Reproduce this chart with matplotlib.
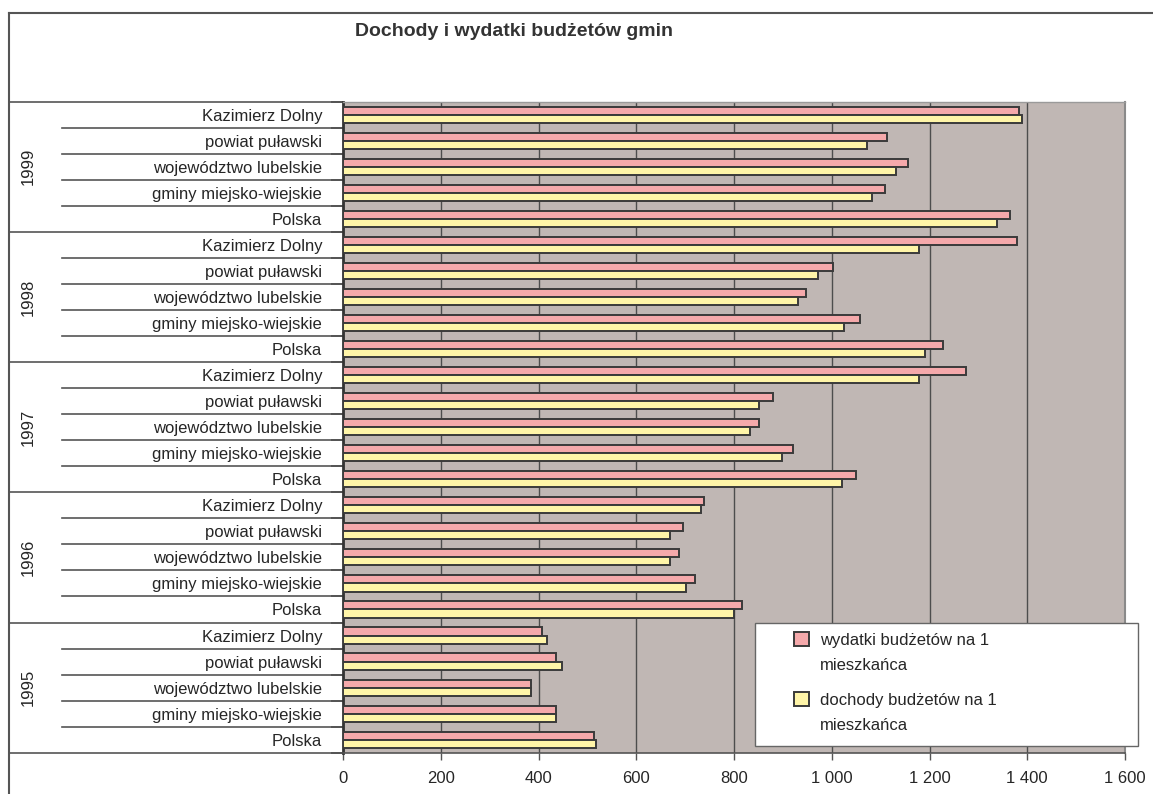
import numpy as np
import matplotlib.pyplot as plt
from matplotlib.transforms import blended_transform_factory
from matplotlib.lines import Line2D
from matplotlib.patches import Rectangle

# ============================================================
# USTAWIENIA WYKRESU
# ============================================================

plt.rcParams.update({
    "font.family": ["Liberation Sans", "DejaVu Sans"],
    "font.size": 12,
    "text.color": "#262626",
    "xtick.labelcolor": "#262626",
    "ytick.labelcolor": "#262626",
    "axes.linewidth": 1.2,
})

# ============================================================
# DANE (zł na 1 mieszkańca)
# ============================================================

lata = ["1999", "1998", "1997", "1996", "1995"]
obszary = ["Kazimierz Dolny", "powiat puławski", "województwo lubelskie",
           "gminy miejsko-wiejskie", "Polska"]

wydatki = [1384, 1113, 1155, 1109, 1365,   # 1999
           1380, 1003, 948, 1058, 1228,    # 1998
           1274, 880, 852, 921, 1050,      # 1997
           738, 696, 687, 720, 816,        # 1996
           407, 436, 385, 436, 514]        # 1995

dochody = [1389, 1072, 1131, 1082, 1338,   # 1999
           1178, 972, 930, 1026, 1191,     # 1998
           1178, 852, 833, 898, 1021,      # 1997
           733, 669, 669, 701, 801,        # 1996
           417, 449, 385, 436, 518]        # 1995

serie = ["wydatki budżetów na 1\nmieszkańca", "dochody budżetów na 1\nmieszkańca"]

x_ticks = [0, 200, 400, 600, 800, 1000, 1200, 1400, 1600]
x_etykiety = ["0", "200", "400", "600", "800", "1 000", "1 200", "1 400", "1 600"]

# ============================================================
# UKŁAD (w pikselach obrazu)
# ============================================================

W, H = 1153, 794
lewo, prawo, gora, dol = 343, 1125, 101.7, 752.7

kolor_wydatki = "#F5A9AB"
kolor_dochody = "#FFF5A8"
kolor_tla = "#C0B7B4"
kolor_obrys = "#3a3a3a"

fig = plt.figure(figsize=(W / 100, H / 100), dpi=100)
ax = fig.add_axes([lewo / W, 1 - dol / H, (prawo - lewo) / W, (dol - gora) / H])
ax.set_facecolor(kolor_tla)

n = len(lata) * len(obszary)
y = np.arange(n)
h = 0.31

ax.barh(y - h / 2, wydatki, height=h, color=kolor_wydatki, edgecolor=kolor_obrys,
        linewidth=1.4, zorder=3)
ax.barh(y + h / 2, dochody, height=h, color=kolor_dochody, edgecolor=kolor_obrys,
        linewidth=1.4, zorder=3)

# ============================================================
# OSIE
# ============================================================

ax.set_xlim(0, 1600)
ax.set_ylim(n - 0.5, -0.5)
ax.set_xticks(x_ticks, labels=x_etykiety)
ax.xaxis.grid(True, color="#4d4d4d", linewidth=1.0)
ax.set_axisbelow(True)
ax.tick_params(axis="x", length=5, width=1.0, color="#555555", pad=8)

ax.set_yticks(y, labels=obszary * len(lata))
ax.tick_params(axis="y", which="major", length=0, pad=15)
ax.set_yticks(np.arange(-0.5, n, 1), minor=True)
ax.tick_params(axis="y", which="minor", length=9, width=1.2, color="#333333")

ax.spines["left"].set_color("#333333")
ax.spines["left"].set_linewidth(2.0)
ax.spines["bottom"].set_color("#555555")
ax.spines["top"].set_color("#9a9a9a")
ax.spines["top"].set_linewidth(1.0)
ax.spines["right"].set_color("#8a8a8a")
ax.spines["right"].set_linewidth(1.5)

# linie podziału kategorii i grup lat
tr = blended_transform_factory(ax.transAxes, ax.transData)
x_wew = (62 - lewo) / (prawo - lewo)
x_zew = (10 - lewo) / (prawo - lewo)
for b in range(n + 1):
    x0 = x_zew if b % len(obszary) == 0 else x_wew
    ax.plot([x0, 0], [b - 0.5, b - 0.5], transform=tr, color="#555555",
            linewidth=1.2, clip_on=False)

x_lat = (28 - lewo) / (prawo - lewo)
for i, rok in enumerate(lata):
    srodek = i * len(obszary) + (len(obszary) - 1) / 2
    ax.text(x_lat, srodek, rok, transform=tr, rotation=90,
            ha="center", va="center", fontsize=12)

# ============================================================
# LEGENDA (ramka, kwadraty, opisy)
# ============================================================

ax.add_patch(Rectangle((755 / W, 1 - 745.7 / H), (1138 - 755) / W, (745.7 - 623) / H,
                       transform=fig.transFigure, facecolor="white",
                       edgecolor="#666666", linewidth=1.0, zorder=6, clip_on=False))

for k, (opis, kolor) in enumerate(zip(serie, [kolor_wydatki, kolor_dochody])):
    y0 = 632 + k * 60
    ax.add_patch(Rectangle((794 / W, 1 - (y0 + 14) / H), 15 / W, 14 / H,
                           transform=fig.transFigure, facecolor=kolor,
                           edgecolor=kolor_obrys, linewidth=1.4, zorder=7,
                           clip_on=False))
    ax.text(820 / W, 1 - (y0 + 1) / H, opis, transform=fig.transFigure,
            ha="left", va="top", fontsize=12, linespacing=1.8, zorder=7)

# ============================================================
# TYTUŁ I RAMKA WYKRESU
# ============================================================

fig.text(514 / W, 1 - 32 / H, "Dochody i wydatki budżetów gmin",
         ha="center", va="center", fontsize=14, fontweight="bold", color="#333333")

fig.add_artist(Line2D([9 / W, 9 / W], [0, 1 - 12.5 / H], transform=fig.transFigure,
                      color="#555555", linewidth=1.5))
fig.add_artist(Line2D([9 / W, 1], [1 - 12.5 / H, 1 - 12.5 / H], transform=fig.transFigure,
                      color="#555555", linewidth=1.5))

fig.savefig("out.png", dpi=100)
